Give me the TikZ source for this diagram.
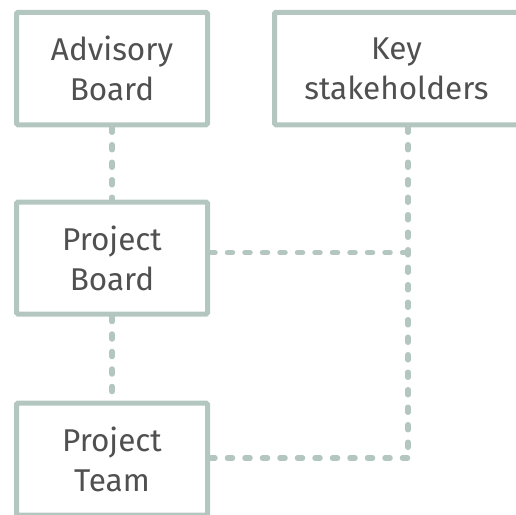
\documentclass[tikz,border=0pt]{standalone}
\usepackage{fontspec}
\setmainfont{Fira Sans}
\definecolor{boxc}{HTML}{B3C7C0}
\definecolor{txtc}{HTML}{505050}
\begin{document}
\begin{tikzpicture}[x=1pt,y=-1pt,
  box/.style={draw=boxc, line width=5pt, rounded corners=1.5pt, rectangle, fill=white,
    minimum width=191pt, minimum height=112.5pt, inner sep=0pt, align=center,
    text=txtc, font=\fontsize{31.5}{40}\selectfont},
  link/.style={draw=boxc, line width=5.5pt, line cap=round, dash pattern=on 5pt off 12.5pt}]
\useasboundingbox (0,0) rectangle (516,514);
\clip (0,0) rectangle (516,514);
\node[box] (adv) at (112,68.5) {Advisory\\Board};
\node[box, minimum width=244pt] (key) at (396.5,68.5) {Key\\stakeholders};
\node[box, minimum height=112pt] (pb) at (112,258) {Project\\Board};
\node[box, minimum height=112pt] (pt) at (112,459) {Project\\Team};
\coordinate (k1) at (408,252.7);
\coordinate (k2) at (408,458);
\draw[link] (adv.south) -- (pb.north);
\draw[link] (pb.south) -- (pt.north);
\draw[link] (pb.east |- k1) -- (k1);
\draw[link] (pt.east |- k2) -- (k2);
\draw[link] (key.south -| k1) -- (k2);
\end{tikzpicture}
\end{document}
